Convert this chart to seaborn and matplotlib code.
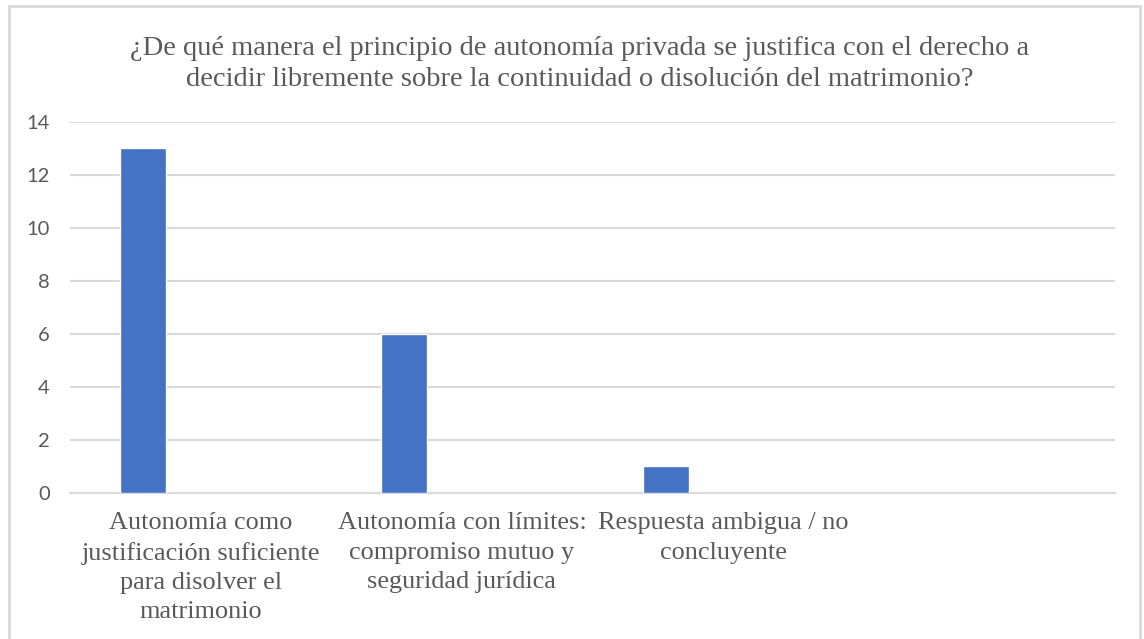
import pandas as pd
import matplotlib.pyplot as plt
import seaborn as sns
from matplotlib.patches import Rectangle

title = ("¿De qué manera el principio de autonomía privada se justifica con el derecho a\n"
         "decidir libremente sobre la continuidad o disolución del matrimonio?")

categories = [
    "Autonomía como justificación suficiente para disolver el matrimonio",
    "Autonomía con límites: compromiso mutuo y seguridad jurídica",
    "Respuesta ambigua / no concluyente",
    "",
]
values = [13, 6, 1]
series = ["Serie1", "Serie2"]
tick_labels = [
    "Autonomía como\njustificación suficiente\npara disolver el\nmatrimonio",
    "Autonomía con límites:\ncompromiso mutuo y\nseguridad jurídica",
    "Respuesta ambigua / no\nconcluyente",
    "",
]
yticks = [0, 2, 4, 6, 8, 10, 12, 14]

df = pd.DataFrame({
    "categoria": categories[:len(values)],
    "valor": values,
    "serie": series[0],
})

sns.set_style("white")
grey = "#595959"
grid = "#d9d9d9"

fig = plt.figure(figsize=(11.44, 6.39), dpi=100)
ax = fig.add_axes([0.0612, 0.2285, 0.9135, 0.5806])

sns.barplot(data=df, x="categoria", y="valor", hue="serie",
            order=categories, hue_order=series,
            palette=["#4472C4", "#ED7D31"], saturation=1,
            width=0.88, gap=0.6, dodge=True,
            legend=False, ax=ax, zorder=3)

ax.set_ylim(0, 14)
ax.set_xlim(-0.5, len(categories) - 0.5)
ax.set_yticks(yticks)
ax.set_yticklabels([str(t) for t in yticks], fontfamily="Lato", fontsize=14.5, color=grey)
ax.set_xticks(range(len(categories)))
ax.set_xticklabels(tick_labels, fontfamily="Liberation Serif", fontsize=18.9,
                   color=grey, linespacing=1.42, va="top")
ax.tick_params(axis="y", length=0, pad=14.4)
ax.tick_params(axis="x", length=0, pad=14)
ax.set_xlabel("")
ax.set_ylabel("")
ax.grid(axis="y", color=grid, linewidth=1.5, zorder=0)
ax.set_axisbelow(True)
for side in ["left", "right", "top"]:
    ax.spines[side].set_visible(False)
ax.spines["bottom"].set_color(grid)
ax.spines["bottom"].set_linewidth(1.5)

fig.text(0.507, 1 - 64 / 639, title, ha="center", va="center",
         fontfamily="Liberation Serif", fontsize=20.5, color=grey, linespacing=1.3)

fig.patches.append(Rectangle((9 / 1144, -0.05), 1131 / 1144, 1 - 6 / 639 + 0.05,
                             transform=fig.transFigure, fill=False,
                             edgecolor=grid, linewidth=2))

plt.savefig("out.png", dpi=100)
